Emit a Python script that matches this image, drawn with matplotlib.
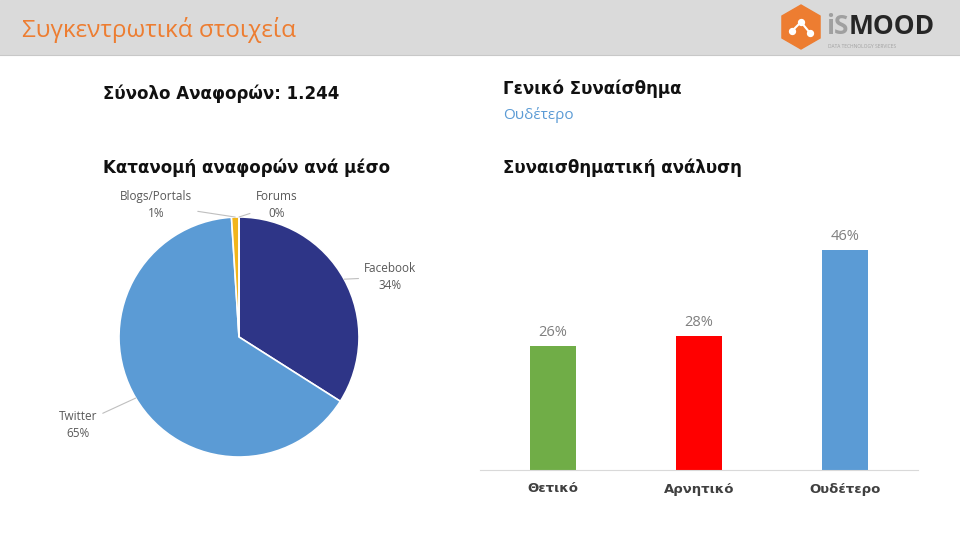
import matplotlib
matplotlib.use("Agg")
import matplotlib.pyplot as plt
from matplotlib.patches import Rectangle, RegularPolygon
import numpy as np

plt.rcParams['font.family'] = ['Open Sans', 'DejaVu Sans']
BOLD = ['DejaVu Sans']

# Δεδομένα
total_mentions = "1.244"
overall_sentiment = "Ουδέτερο"

media = ["Facebook", "Twitter", "Blogs/Portals", "Forums"]
media_pct = [34, 65, 1, 0]
media_colors = ["#2E3587", "#5B9BD5", "#F2B51B", "#A5A5A5"]

sentiments = ["Θετικό", "Αρνητικό", "Ουδέτερο"]
sentiment_pct = [26, 28, 46]
sentiment_colors = ["#70AD47", "#FF0000", "#5B9BD5"]

# θέσεις ετικετών πίτας (σε μονάδες ακτίνας)
label_pos = [(1.26, 0.50), (-1.34, -0.73), (-0.69, 1.10), (0.31, 1.10)]

fig = plt.figure(figsize=(9.6, 5.4), dpi=100)

# Φόντο σε συντεταγμένες pixel
bg = fig.add_axes([0, 0, 1, 1])
bg.set_xlim(0, 960)
bg.set_ylim(540, 0)
bg.axis("off")

bg.add_patch(Rectangle((0, 0), 960, 54, color="#DADADA", zorder=0))
bg.plot([0, 960], [54.5, 54.5], color="#C8C8C8", lw=0.8)
bg.text(22, 30, "Συγκεντρωτικά στοιχεία", color="#ED7D31", fontsize=17.5,
        va="center", ha="left")

# Λογότυπο
bg.add_patch(RegularPolygon((801, 27), numVertices=6, radius=22,
                            orientation=0, color="#ED7D31"))
dots = [(792, 31), (801, 22), (810, 33)]
bg.plot([d[0] for d in dots], [d[1] for d in dots], color="white", lw=1.5)
bg.scatter([d[0] for d in dots], [d[1] for d in dots], s=18, color="white",
           zorder=5)
bg.text(826, 27, "iS", color="#A0A0A0", fontsize=19, fontweight="bold",
        va="center", ha="left")
bg.text(849, 27, "MOOD", color="#262626", fontsize=19, fontweight="bold",
        va="center", ha="left")
bg.text(828, 47, "DATA TECHNOLOGY SERVICES", color="#A0A0A0", fontsize=3.5,
        va="center", ha="left")

# Κείμενα
bg.text(103, 94, "Σύνολο Αναφορών: " + total_mentions, fontsize=12,
        fontweight="bold", va="center", color="#111111", family=BOLD)
bg.text(103, 168, "Κατανομή αναφορών ανά μέσο", fontsize=12,
        fontweight="bold", va="center", color="#111111", family=BOLD)
bg.text(503, 89, "Γενικό Συναίσθημα", fontsize=12, fontweight="bold",
        va="center", color="#111111", family=BOLD)
bg.text(503, 115, overall_sentiment, fontsize=11, va="center",
        color="#5B9BD5")
bg.text(503, 168, "Συναισθηματική ανάλυση", fontsize=12, fontweight="bold",
        va="center", color="#111111", family=BOLD)

# Πίτα
cx, cy, r = 239, 337, 120
ax_pie = fig.add_axes([(cx - r) / 960, (540 - cy - r) / 540, 2 * r / 960, 2 * r / 540])
wedges, _ = ax_pie.pie(media_pct, colors=media_colors, startangle=90,
                       counterclock=False,
                       wedgeprops=dict(edgecolor="white", linewidth=1.2))
ax_pie.set_xlim(-1, 1)
ax_pie.set_ylim(-1, 1)
ax_pie.set_aspect("equal")

for w, name, pct, pos in zip(wedges, media, media_pct, label_pos):
    ang = np.deg2rad((w.theta1 + w.theta2) / 2)
    x0, y0 = np.cos(ang), np.sin(ang)
    ax_pie.annotate(f"{name}\n{pct}%", xy=(x0, y0), xytext=pos,
                    ha="center", va="center", fontsize=8.5, color="#595959",
                    linespacing=1.4,
                    arrowprops=dict(arrowstyle="-", color="#BFBFBF", lw=0.8,
                                    shrinkA=2, shrinkB=0))

# Ραβδόγραμμα
ax_bar = fig.add_axes([480 / 960, (540 - 470) / 540, 438 / 960, 250 / 540])
x = np.arange(len(sentiments))
bars = ax_bar.bar(x, sentiment_pct, width=0.32, color=sentiment_colors)
ax_bar.set_xlim(-0.5, 2.5)
ax_bar.set_ylim(0, 52.3)
for b, v in zip(bars, sentiment_pct):
    ax_bar.text(b.get_x() + b.get_width() / 2, v + 1.2, f"{v}%",
                ha="center", va="bottom", fontsize=10.5, color="#7F7F7F")
ax_bar.set_xticks(x)
ax_bar.set_xticklabels(sentiments, fontsize=9.5, fontweight="bold",
                       color="#404040", family=BOLD)
ax_bar.tick_params(axis="x", length=0, pad=9)
ax_bar.set_yticks([])
for s in ["top", "right", "left"]:
    ax_bar.spines[s].set_visible(False)
ax_bar.spines["bottom"].set_color("#D9D9D9")
ax_bar.set_facecolor("none")

fig.savefig("out.png", dpi=100)
